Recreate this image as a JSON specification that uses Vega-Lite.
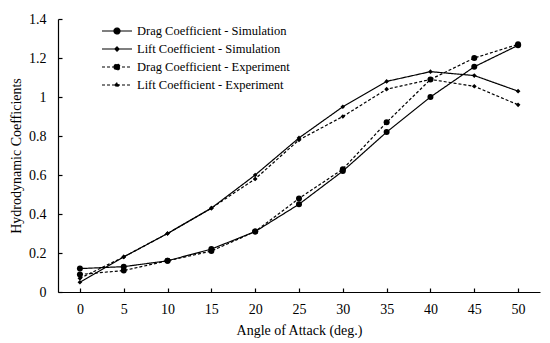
{
  "$schema": "https://vega.github.io/schema/vega-lite/v6.json",
  "autosize": {"type": "none"},
  "width": 482,
  "height": 273,
  "padding": {"left": 58, "top": 19, "right": 10, "bottom": 51},
  "background": "white",
  "config": {
    "font": "Liberation Serif",
    "view": {"stroke": null},
    "axis": {
      "grid": false,
      "domainColor": "black",
      "domainWidth": 1.2,
      "tickColor": "black",
      "tickWidth": 1.2,
      "labelColor": "black",
      "titleColor": "black",
      "labelFont": "Liberation Serif",
      "titleFont": "Liberation Serif",
      "labelFontSize": 14,
      "titleFontSize": 14,
      "titleFontWeight": "normal"
    },
    "legend": {
      "labelFont": "Liberation Serif"
    }
  },
  "data": {
    "values": [
      {"angle": 0, "series": "Drag Coefficient - Simulation", "value": 0.12},
      {"angle": 5, "series": "Drag Coefficient - Simulation", "value": 0.13},
      {"angle": 10, "series": "Drag Coefficient - Simulation", "value": 0.16},
      {"angle": 15, "series": "Drag Coefficient - Simulation", "value": 0.22},
      {"angle": 20, "series": "Drag Coefficient - Simulation", "value": 0.31},
      {"angle": 25, "series": "Drag Coefficient - Simulation", "value": 0.45},
      {"angle": 30, "series": "Drag Coefficient - Simulation", "value": 0.62},
      {"angle": 35, "series": "Drag Coefficient - Simulation", "value": 0.82},
      {"angle": 40, "series": "Drag Coefficient - Simulation", "value": 1.0},
      {"angle": 45, "series": "Drag Coefficient - Simulation", "value": 1.155},
      {"angle": 50, "series": "Drag Coefficient - Simulation", "value": 1.265},
      {"angle": 0, "series": "Lift Coefficient - Simulation", "value": 0.05},
      {"angle": 5, "series": "Lift Coefficient - Simulation", "value": 0.18},
      {"angle": 10, "series": "Lift Coefficient - Simulation", "value": 0.3},
      {"angle": 15, "series": "Lift Coefficient - Simulation", "value": 0.43},
      {"angle": 20, "series": "Lift Coefficient - Simulation", "value": 0.6},
      {"angle": 25, "series": "Lift Coefficient - Simulation", "value": 0.79},
      {"angle": 30, "series": "Lift Coefficient - Simulation", "value": 0.95},
      {"angle": 35, "series": "Lift Coefficient - Simulation", "value": 1.08},
      {"angle": 40, "series": "Lift Coefficient - Simulation", "value": 1.13},
      {"angle": 45, "series": "Lift Coefficient - Simulation", "value": 1.11},
      {"angle": 50, "series": "Lift Coefficient - Simulation", "value": 1.03},
      {"angle": 0, "series": "Drag Coefficient - Experiment", "value": 0.09},
      {"angle": 5, "series": "Drag Coefficient - Experiment", "value": 0.11},
      {"angle": 10, "series": "Drag Coefficient - Experiment", "value": 0.16},
      {"angle": 15, "series": "Drag Coefficient - Experiment", "value": 0.21},
      {"angle": 20, "series": "Drag Coefficient - Experiment", "value": 0.31},
      {"angle": 25, "series": "Drag Coefficient - Experiment", "value": 0.48},
      {"angle": 30, "series": "Drag Coefficient - Experiment", "value": 0.63},
      {"angle": 35, "series": "Drag Coefficient - Experiment", "value": 0.87},
      {"angle": 40, "series": "Drag Coefficient - Experiment", "value": 1.09},
      {"angle": 45, "series": "Drag Coefficient - Experiment", "value": 1.2},
      {"angle": 50, "series": "Drag Coefficient - Experiment", "value": 1.27},
      {"angle": 0, "series": "Lift Coefficient - Experiment", "value": 0.07},
      {"angle": 5, "series": "Lift Coefficient - Experiment", "value": 0.18},
      {"angle": 10, "series": "Lift Coefficient - Experiment", "value": 0.3},
      {"angle": 15, "series": "Lift Coefficient - Experiment", "value": 0.43},
      {"angle": 20, "series": "Lift Coefficient - Experiment", "value": 0.58},
      {"angle": 25, "series": "Lift Coefficient - Experiment", "value": 0.78},
      {"angle": 30, "series": "Lift Coefficient - Experiment", "value": 0.9},
      {"angle": 35, "series": "Lift Coefficient - Experiment", "value": 1.04},
      {"angle": 40, "series": "Lift Coefficient - Experiment", "value": 1.09},
      {"angle": 45, "series": "Lift Coefficient - Experiment", "value": 1.055},
      {"angle": 50, "series": "Lift Coefficient - Experiment", "value": 0.96}
    ]
  },
  "encoding": {
    "x": {
      "field": "angle",
      "type": "quantitative",
      "scale": {"domain": [-2.5, 52.5], "nice": false, "zero": false},
      "axis": {
        "title": "Angle of Attack (deg.)",
        "values": [0, 5, 10, 15, 20, 25, 30, 35, 40, 45, 50],
        "tickSize": -4,
        "labelPadding": 14,
        "titlePadding": 7
      }
    },
    "y": {
      "field": "value",
      "type": "quantitative",
      "scale": {"domain": [0, 1.4], "nice": false},
      "axis": {
        "title": "Hydrodynamic Coefficients",
        "values": [0, 0.2, 0.4, 0.6, 0.8, 1, 1.2, 1.4],
        "format": ".1~f",
        "tickSize": -4,
        "labelPadding": 16,
        "titlePadding": 5
      }
    }
  },
  "layer": [
    {
      "mark": {"type": "line", "color": "black", "strokeWidth": 1.2},
      "encoding": {
        "strokeDash": {
          "field": "series",
          "type": "nominal",
          "scale": {
            "domain": ["Drag Coefficient - Simulation", "Lift Coefficient - Simulation", "Drag Coefficient - Experiment", "Lift Coefficient - Experiment"],
            "range": [[1, 0], [1, 0], [3, 2], [3, 2]]
          },
          "legend": {
            "title": null,
            "orient": "none",
            "legendX": 52,
            "legendY": 5,
            "symbolType": "M-2.5,0H2.5",
            "symbolSize": 144,
            "symbolStrokeColor": "black",
            "symbolStrokeWidth": 1.2,
            "labelFontSize": 12.5,
            "labelColor": "black",
            "labelOffset": 13,
            "rowPadding": 4,
            "encode": {
              "symbols": {
                "update": {
                  "shape": {"signal": "indexof(datum.value, 'Drag') >= 0 ? 'M-2.5,0H2.5M-0.5,0A0.5,0.5 0 1,0 0.5,0A0.5,0.5 0 1,0 -0.5,0Z' : 'M-2.5,0H2.5M-0.35,0L0,-0.35L0.35,0L0,0.35Z'"},
                  "fill": {"value": "black"},
                  "stroke": {"value": "black"},
                  "strokeWidth": {"value": 1.2},
                  "strokeOpacity": {"value": 1},
                  "opacity": {"value": 1}
                }
              }
            }
          }
        }
      }
    },
    {
      "transform": [{"filter": "indexof(datum.series, 'Drag') >= 0"}],
      "mark": {"type": "point", "shape": "circle", "filled": true, "color": "black", "opacity": 1, "size": 36}
    },
    {
      "transform": [{"filter": "indexof(datum.series, 'Lift') >= 0"}],
      "mark": {"type": "point", "shape": "diamond", "filled": true, "color": "black", "opacity": 1, "size": 22}
    }
  ]
}
